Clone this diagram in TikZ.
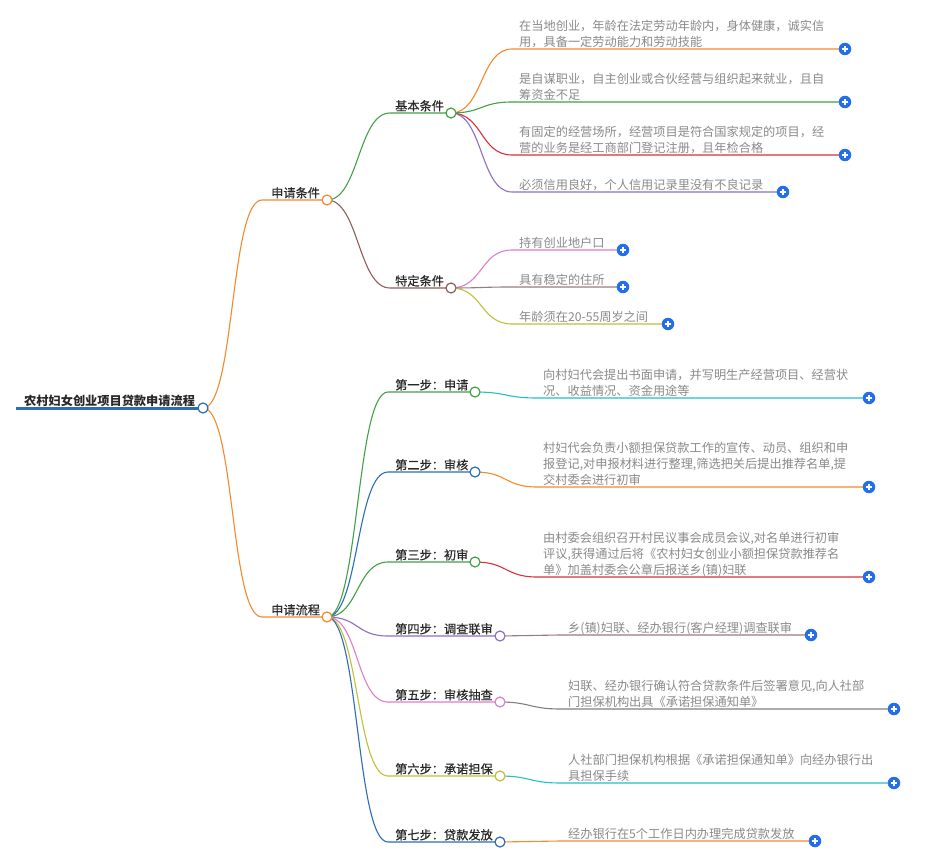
\documentclass[tikz,border=0pt]{standalone}
\usepackage{fontspec}
\newfontfamily\cjk{Noto Sans CJK SC}
\newfontfamily\cjkmed[FakeBold=0.5]{Noto Sans CJK SC}
\usetikzlibrary{backgrounds}
\definecolor{morange}{RGB}{244,137,46}
\definecolor{mgreen}{RGB}{67,160,71}
\definecolor{mred}{RGB}{214,48,60}
\definecolor{mpurple}{RGB}{143,110,196}
\definecolor{mbrown}{RGB}{141,96,92}
\definecolor{mtaupe}{RGB}{150,125,125}
\definecolor{mpink}{RGB}{222,126,200}
\definecolor{molive}{RGB}{192,192,60}
\definecolor{mcyan}{RGB}{38,190,200}
\definecolor{mblue}{RGB}{44,110,180}
\definecolor{mgray}{RGB}{128,128,128}
\definecolor{plusblue}{RGB}{35,110,235}
\definecolor{leafgray}{RGB}{138,138,138}
\definecolor{darktext}{RGB}{40,40,40}
\begin{document}
\begin{tikzpicture}[x=1pt,y=-1pt,
  dot/.style={circle, draw, fill=white, line width=1.2pt, minimum size=10pt, inner sep=0pt},
  plusbtn/.style={circle, fill=plusblue, minimum size=12.5pt, inner sep=0pt,
    path picture={
      \draw[white, line width=1.5pt] ([xshift=-3.3pt]path picture bounding box.center) -- ([xshift=3.3pt]path picture bounding box.center);
      \draw[white, line width=1.5pt] ([yshift=-3.3pt]path picture bounding box.center) -- ([yshift=3.3pt]path picture bounding box.center);}},
  lbl/.style={anchor=base west, inner sep=0pt, text=darktext, font=\cjkmed\fontsize{12.2}{16}\selectfont},
  rootlbl/.style={anchor=base west, inner sep=0pt, text=darktext, font=\cjk\bfseries\fontsize{12.2}{16}\selectfont},
  leaf/.style={anchor=south west, inner sep=0pt, align=left, text depth=0pt, text=leafgray, font=\cjk\fontsize{12.2}{16}\selectfont},
  link/.style={line width=1.1pt},
]
\useasboundingbox (0,0) rectangle (940,861);

% ---------- nodes ----------
% root
\coordinate (rootstart) at (16,408);
\node[dot, draw=mblue] (root) at (203,408) {};
\node[rootlbl] (roott) at (24,405.5) {农村妇女创业项目贷款申请流程};

% level 1
\coordinate (c1s) at (262,200);
\node[dot, draw=morange] (c1) at (327,200) {};
\node[lbl] (c1t) at (271,197.5) {申请条件};
\coordinate (c2s) at (262,617);
\node[dot, draw=morange] (c2) at (327,617) {};
\node[lbl] (c2t) at (271,614.5) {申请流程};

% level 2 (conditions)
\coordinate (b1s) at (390,113);
\node[dot, draw=mgreen] (b1) at (451,113) {};
\node[lbl] (b1t) at (395,110.5) {基本条件};
\coordinate (b2s) at (390,288);
\node[dot, draw=mbrown] (b2) at (451,288) {};
\node[lbl] (b2t) at (395,285.5) {特定条件};

% leaves of 基本条件
\coordinate (l11s) at (512,49);
\node[plusbtn] (p11) at (845,49) {};
\node[leaf] (l11) at (519,47) {在当地创业，年龄在法定劳动年龄内，身体健康，诚实信\\用，具备一定劳动能力和劳动技能};
\coordinate (l12s) at (512,102);
\node[plusbtn] (p12) at (845,102) {};
\node[leaf] (l12) at (519,100) {是自谋职业，自主创业或合伙经营与组织起来就业，且自\\筹资金不足};
\coordinate (l13s) at (512,155);
\node[plusbtn] (p13) at (845,155) {};
\node[leaf] (l13) at (519,153) {有固定的经营场所，经营项目是符合国家规定的项目，经\\营的业务是经工商部门登记注册，且年检合格};
\coordinate (l14s) at (512,192);
\node[plusbtn] (p14) at (783,192) {};
\node[leaf] (l14) at (519,190) {必须信用良好，个人信用记录里没有不良记录};

% leaves of 特定条件
\coordinate (l21s) at (512,250);
\node[plusbtn] (p21) at (623,250) {};
\node[leaf] (l21) at (519,248) {持有创业地户口};
\coordinate (l22s) at (512,287);
\node[plusbtn] (p22) at (623,287) {};
\node[leaf] (l22) at (519,285) {具有稳定的住所};
\coordinate (l23s) at (512,324);
\node[plusbtn] (p23) at (668,324) {};
\node[leaf] (l23) at (519,322) {年龄须在20-55周岁之间};

% steps
\coordinate (s1s) at (388,392);
\node[dot, draw=mgreen] (s1) at (475,392) {};
\node[lbl] (s1t) at (395,389.5) {第一步：申请};
\coordinate (s2s) at (388,472);
\node[dot, draw=mblue] (s2) at (475,472) {};
\node[lbl] (s2t) at (395,469.5) {第二步：审核};
\coordinate (s3s) at (388,562);
\node[dot, draw=mgreen] (s3) at (475,562) {};
\node[lbl] (s3t) at (395,559.5) {第三步：初审};
\coordinate (s4s) at (388,636);
\node[dot, draw=mpurple] (s4) at (500,636) {};
\node[lbl] (s4t) at (395,633.5) {第四步：调查联审};
\coordinate (s5s) at (388,702);
\node[dot, draw=mpink] (s5) at (500,702) {};
\node[lbl] (s5t) at (395,699.5) {第五步：审核抽查};
\coordinate (s6s) at (388,776);
\node[dot, draw=molive] (s6) at (500,776) {};
\node[lbl] (s6t) at (395,773.5) {第六步：承诺担保};
\coordinate (s7s) at (388,842);
\node[dot, draw=mblue] (s7) at (500,842) {};
\node[lbl] (s7t) at (395,839.5) {第七步：贷款发放};

% step leaves
\coordinate (t1s) at (537,398);
\node[plusbtn] (q1) at (869,398) {};
\node[leaf] (t1) at (543,396) {向村妇代会提出书面申请，并写明生产经营项目、经营状\\况、收益情况、资金用途等};
\coordinate (t2s) at (537,487);
\node[plusbtn] (q2) at (869,487) {};
\node[leaf] (t2) at (543,485) {村妇代会负责小额担保贷款工作的宣传、动员、组织和申\\报登记,对申报材料进行整理,筛选把关后提出推荐名单,提\\交村委会进行初审};
\coordinate (t3s) at (537,577);
\node[plusbtn] (q3) at (869,577) {};
\node[leaf] (t3) at (543,575) {由村委会组织召开村民议事会成员会议,对名单进行初审\\评议,获得通过后将《农村妇女创业小额担保贷款推荐名\\单》加盖村委会公章后报送乡(镇)妇联};
\coordinate (t4s) at (560,635);
\node[plusbtn] (q4) at (811,635) {};
\node[leaf] (t4) at (568,633) {乡(镇)妇联、经办银行(客户经理)调查联审};
\coordinate (t5s) at (560,709);
\node[plusbtn] (q5) at (894,709) {};
\node[leaf] (t5) at (568,707) {妇联、经办银行确认符合贷款条件后签署意见,向人社部\\门担保机构出具《承诺担保通知单》};
\coordinate (t6s) at (560,783);
\node[plusbtn] (q6) at (894,783) {};
\node[leaf] (t6) at (568,781) {人社部门担保机构根据《承诺担保通知单》向经办银行出\\具担保手续};
\coordinate (t7s) at (560,841);
\node[plusbtn] (q7) at (815,841) {};
\node[leaf] (t7) at (568,839) {经办银行在5个工作日内办理完成贷款发放};

% ---------- connectors ----------
\begin{pgfonlayer}{background}
\fill[white] (0,0) rectangle (940,861);
\draw[mblue, line width=3pt] (rootstart) -- (root.center);
\draw[link, morange] (root.center) .. controls +(32,0) and +(-32,0) .. (c1s) -- (c1.center);
\draw[link, morange] (root.center) .. controls +(32,0) and +(-32,0) .. (c2s) -- (c2.center);
\draw[link, mgreen] (c1.center) .. controls +(32,0) and +(-32,0) .. (b1s) -- (b1.center);
\draw[link, mbrown] (c1.center) .. controls +(32,0) and +(-32,0) .. (b2s) -- (b2.center);
\draw[link, morange] (b1.center) .. controls +(32,0) and +(-32,0) .. (l11s) -- (p11.center);
\draw[link, mgreen] (b1.center) .. controls +(32,0) and +(-32,0) .. (l12s) -- (p12.center);
\draw[link, mred] (b1.center) .. controls +(32,0) and +(-32,0) .. (l13s) -- (p13.center);
\draw[link, mpurple] (b1.center) .. controls +(32,0) and +(-32,0) .. (l14s) -- (p14.center);
\draw[link, mpink] (b2.center) .. controls +(32,0) and +(-32,0) .. (l21s) -- (p21.center);
\draw[link, mtaupe] (b2.center) .. controls +(32,0) and +(-32,0) .. (l22s) -- (p22.center);
\draw[link, molive] (b2.center) .. controls +(32,0) and +(-32,0) .. (l23s) -- (p23.center);
\draw[link, mgreen] (c2.center) .. controls +(32,0) and +(-32,0) .. (s1s) -- (s1.center);
\draw[link, mblue] (c2.center) .. controls +(32,0) and +(-32,0) .. (s2s) -- (s2.center);
\draw[link, mgreen] (c2.center) .. controls +(32,0) and +(-32,0) .. (s3s) -- (s3.center);
\draw[link, mpurple] (c2.center) .. controls +(32,0) and +(-32,0) .. (s4s) -- (s4.center);
\draw[link, mpink] (c2.center) .. controls +(32,0) and +(-32,0) .. (s5s) -- (s5.center);
\draw[link, molive] (c2.center) .. controls +(32,0) and +(-32,0) .. (s6s) -- (s6.center);
\draw[link, mblue] (c2.center) .. controls +(32,0) and +(-32,0) .. (s7s) -- (s7.center);
\draw[link, mcyan] (s1.center) .. controls +(32,0) and +(-32,0) .. (t1s) -- (q1.center);
\draw[link, morange] (s2.center) .. controls +(32,0) and +(-32,0) .. (t2s) -- (q2.center);
\draw[link, mred] (s3.center) .. controls +(32,0) and +(-32,0) .. (t3s) -- (q3.center);
\draw[link, mtaupe] (s4.center) .. controls +(30,0) and +(-30,0) .. (t4s) -- (q4.center);
\draw[link, mgray] (s5.center) .. controls +(30,0) and +(-30,0) .. (t5s) -- (q5.center);
\draw[link, mcyan] (s6.center) .. controls +(30,0) and +(-30,0) .. (t6s) -- (q6.center);
\draw[link, morange] (s7.center) .. controls +(30,0) and +(-30,0) .. (t7s) -- (q7.center);
\end{pgfonlayer}
\end{tikzpicture}
\end{document}
